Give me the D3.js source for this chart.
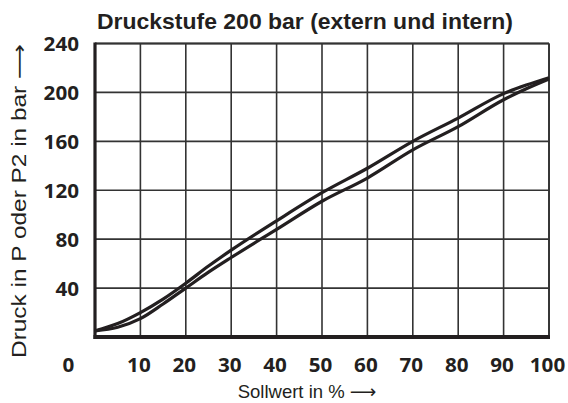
<!DOCTYPE html>
<html>
<head>
<meta charset="utf-8">
<script src="https://cdn.jsdelivr.net/npm/d3@7"></script>
<style>
  body { margin: 0; background: #fff; }
  svg { display: block; }
</style>
</head>
<body>
<div id="chart-area"></div>
<script>
// Druckstufe 200 bar - Sollwert vs Druck
var sollwert = [0, 5, 10, 15, 20, 25, 30, 40, 50, 60, 70, 80, 90, 95, 100];
var druckOben = [5, 11, 20, 31, 44, 58, 71, 95, 118, 138, 160, 179, 199, 206, 212];
var druckUnten = [5, 8, 15, 27, 40, 53, 65, 88, 111, 130, 153, 172, 194, 203, 211];
var xTicks = [0, 10, 20, 30, 40, 50, 60, 70, 80, 90, 100];
var yTicks = [40, 80, 120, 160, 200, 240];

var W = 568, H = 403;
var margin = { left: 95, right: 19, top: 43.5, bottom: 66 };
var width = W - margin.left - margin.right,
    height = H - margin.top - margin.bottom;
var ink = "#231f20";
var sans = "'Liberation Sans', Arial, sans-serif";

var svg = d3.select("#chart-area")
    .append("svg")
    .attr("width", W)
    .attr("height", H);

var g = svg.append("g")
    .attr("transform", "translate(" + margin.left + "," + margin.top + ")");

var x = d3.scaleLinear().domain([0, 100]).range([0, width]);
var y = d3.scaleLinear().domain([0, 240]).range([height, 0]);

// grid
g.selectAll(".vgrid")
    .data(xTicks.slice(1))
    .enter().append("line")
    .attr("x1", function (d) { return x(d); })
    .attr("x2", function (d) { return x(d); })
    .attr("y1", 0).attr("y2", height)
    .attr("stroke", "#333").attr("stroke-width", 1.6);

g.selectAll(".hgrid")
    .data(yTicks)
    .enter().append("line")
    .attr("x1", 0).attr("x2", width)
    .attr("y1", function (d) { return y(d); })
    .attr("y2", function (d) { return y(d); })
    .attr("stroke", "#333").attr("stroke-width", 1.6);

// axes (labels only)
var yG = g.append("g")
    .call(d3.axisLeft(y).tickValues(yTicks).tickSize(0).tickPadding(16));
var xG = g.append("g")
    .attr("transform", "translate(0," + height + ")")
    .call(d3.axisBottom(x).tickValues(xTicks).tickSize(0).tickPadding(21));

[xG, yG].forEach(function (ax) {
    ax.select(".domain").remove();
    ax.selectAll("text")
        .attr("fill", ink)
        .attr("textLength", function (d) { return String(d).length * 11.8; })
        .attr("lengthAdjust", "spacingAndGlyphs")
        .style("font-family", "'Open Sans', sans-serif")
        .style("font-weight", "bold")
        .style("font-size", "20px");
});
yG.selectAll("text").attr("dy", "0.36em");
xG.selectAll("text").attr("dx", "-2");
// origin label sits in the corner
xG.selectAll(".tick").filter(function (d) { return d === 0; })
    .select("text").attr("x", -25);

// frame
g.append("line").attr("x1", 0).attr("x2", width).attr("y1", 0).attr("y2", 0)
    .attr("stroke", "#333").attr("stroke-width", 1.8);
g.append("line").attr("x1", width).attr("x2", width).attr("y1", 0).attr("y2", height)
    .attr("stroke", "#333").attr("stroke-width", 1.8);
g.append("line").attr("x1", 0).attr("x2", 0).attr("y1", -1).attr("y2", height + 2)
    .attr("stroke", ink).attr("stroke-width", 3.2);
g.append("line").attr("x1", -1.5).attr("x2", width + 1).attr("y1", height).attr("y2", height)
    .attr("stroke", ink).attr("stroke-width", 4);

// curves
var line = d3.line()
    .x(function (d) { return x(d[0]); })
    .y(function (d) { return y(d[1]); })
    .curve(d3.curveMonotoneX);

[druckOben, druckUnten].forEach(function (vals) {
    g.append("path")
        .datum(sollwert.map(function (s, i) { return [s, vals[i]]; }))
        .attr("d", line)
        .attr("fill", "none")
        .attr("stroke", ink)
        .attr("stroke-width", 3.2)
        .attr("stroke-linejoin", "round");
});

// title
svg.append("text")
    .attr("x", 97).attr("y", 29)
    .attr("fill", ink)
    .attr("textLength", 416)
    .attr("lengthAdjust", "spacingAndGlyphs")
    .style("font-family", sans)
    .style("font-weight", "bold")
    .style("font-size", "22.5px")
    .text("Druckstufe 200 bar (extern und intern)");

// axis labels
var yl = svg.append("text")
    .attr("transform", "translate(26,358) rotate(-90)")
    .attr("fill", ink)
    .attr("textLength", 314)
    .attr("lengthAdjust", "spacingAndGlyphs")
    .style("font-family", sans)
    .style("font-size", "20px");
yl.append("tspan").text("Druck in P oder P2 in bar ");
yl.append("tspan").style("font-family", "'DejaVu Sans'").text("\u27F6");

var xl = svg.append("text")
    .attr("x", 307).attr("y", 398)
    .attr("text-anchor", "middle")
    .attr("fill", ink)
    .style("font-family", sans)
    .style("font-size", "18.5px");
xl.append("tspan").text("Sollwert in % ");
xl.append("tspan").style("font-family", "'DejaVu Sans'").text("\u27F6");
</script>
</body>
</html>
